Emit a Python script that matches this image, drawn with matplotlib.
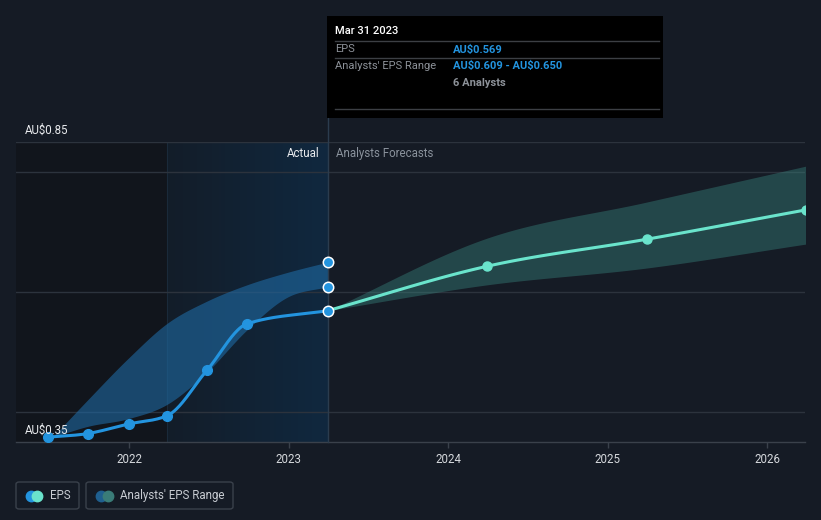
import numpy as np
import matplotlib
matplotlib.use("Agg")
import matplotlib.pyplot as plt
from matplotlib.patches import Rectangle, FancyBboxPatch
from matplotlib.lines import Line2D
from matplotlib.colors import LinearSegmentedColormap

plt.rcParams['font.family'] = ['Roboto', 'DejaVu Sans']

# EPS actuals (decimal year, AU$)
eps_x = [2021.49, 2021.74, 2021.997, 2022.24, 2022.49, 2022.74, 2023.247]
eps_y = [0.358, 0.364, 0.380, 0.394, 0.470, 0.547, 0.569]

# analysts' range over the past
past_x = [2021.52, 2021.74, 2021.997, 2022.24, 2022.49, 2022.74, 2022.997, 2023.247]
past_lo = [0.358, 0.376, 0.389, 0.413, 0.467, 0.537, 0.592, 0.609]
past_hi = [0.358, 0.420, 0.490, 0.548, 0.585, 0.612, 0.633, 0.650]

# forecasts
fc_x = [2023.247, 2024.247, 2025.247, 2026.247]
fc_y = [0.569, 0.643, 0.688, 0.737]
fc_lo = [0.569, 0.612, 0.640, 0.680]
fc_hi = [0.569, 0.690, 0.750, 0.810]

years = [2022, 2023, 2024, 2025, 2026]
y_lines = [0.40, 0.60, 0.80, 0.85]

W, H = 821, 520
BG = '#151b25'
BLUE = '#2394df'
TEAL = '#6ae4cc'


def fx(px):
    return px / W


def fy(py):
    return 1 - py / H


def monotone(x, y, n=40):
    # monotone cubic, like the d3 curve
    x = np.asarray(x, float)
    y = np.asarray(y, float)
    h = np.diff(x)
    d = np.diff(y) / h
    m = np.zeros_like(y)
    m[0], m[-1] = d[0], d[-1]
    for i in range(1, len(y) - 1):
        if d[i - 1] * d[i] <= 0:
            m[i] = 0
        else:
            p = (d[i - 1] * h[i] + d[i] * h[i - 1]) / (h[i - 1] + h[i])
            m[i] = np.sign(d[i]) * min(abs(d[i - 1]), abs(d[i]), 0.5 * abs(p)) * 2
    xs, ys = [], []
    for i in range(len(h)):
        t = np.linspace(0, 1, n)
        h00 = 2 * t**3 - 3 * t**2 + 1
        h10 = t**3 - 2 * t**2 + t
        h01 = -2 * t**3 + 3 * t**2
        h11 = t**3 - t**2
        xs.append(x[i] + t * h[i])
        ys.append(h00 * y[i] + h10 * h[i] * m[i] + h01 * y[i + 1] + h11 * h[i] * m[i + 1])
    return np.concatenate(xs), np.concatenate(ys)


fig = plt.figure(figsize=(W / 100, H / 100), dpi=100, facecolor=BG)
ax = fig.add_axes([fx(16), fy(442), fx(805) - fx(16), fy(142) - fy(442)])
ax.set_facecolor(BG)

x0 = 2022 - (129 - 16) / 159.5
x1 = 2026 + (805 - 767) / 159.5

# shaded past areas
ax.axvspan(x0, 2022.24, color='#0e1116', alpha=0.55, lw=0, zorder=0)
grad = LinearSegmentedColormap.from_list('g', ['#131d29', '#10283f'])
ax.imshow(np.linspace(0, 1, 100).reshape(1, -1), cmap=grad, aspect='auto',
          extent=[2022.24, 2023.247, 0.35, 0.85], zorder=0.5)
ax.set_xlim(x0, x1)
ax.set_ylim(0.35, 0.85)
ax.axvline(2022.24, color='#1a2a3a', lw=0.8, zorder=0.6)

for v in y_lines:
    ax.axhline(v, color='#2c333d', lw=1, zorder=1)

# bands
bx, blo = monotone(past_x, past_lo)
_, bhi = monotone(past_x, past_hi)
ax.fill_between(bx, blo, bhi, color='#1f6aa3', alpha=0.6, lw=0, zorder=2)
fx_, flo = monotone(fc_x, fc_lo)
_, fhi = monotone(fc_x, fc_hi)
ax.fill_between(fx_, flo, fhi, color='#3a8a82', alpha=0.4, lw=0, zorder=2)

# lines
ex, ey = monotone(eps_x, eps_y)
ax.plot(ex, ey, color=BLUE, lw=2.2, zorder=4, solid_capstyle='round')
ax.plot(eps_x[:-1], eps_y[:-1], 'o', color=BLUE, ms=7, zorder=5)
cx, cy = monotone(fc_x, fc_y)
ax.plot(cx, cy, color=TEAL, lw=2.2, zorder=4)
ax.plot(fc_x[1:], fc_y[1:], 'o', color=TEAL, ms=6.5, zorder=5)

# end-of-actuals markers
ax.plot([eps_x[-1]] * 3, [eps_y[-1], past_lo[-1], past_hi[-1]], 'o', color=BLUE,
        ms=7.5, mec='white', mew=1.1, zorder=6, clip_on=False)

# now line
ax.plot([2023.247, 2023.247], [0.35, 0.85 + 25 / 600], color='#2b3c4e', lw=1,
        zorder=3, clip_on=False)

ax.text(2023.247 - 0.05, 0.85 - 12 / 600, 'Actual', color='#e8eaed', fontsize=8.3,
        ha='right', va='center', zorder=7)
ax.text(2023.247 + 0.05, 0.85 - 12 / 600, 'Analysts Forecasts', color='#8a929c',
        fontsize=8.3, ha='left', va='center', zorder=7)

for s in ['top', 'right', 'left']:
    ax.spines[s].set_visible(False)
ax.spines['bottom'].set_color('#3a414b')
ax.spines['bottom'].set_linewidth(1)
ax.set_xticks(years)
ax.set_xticklabels([str(y) for y in years])
ax.tick_params(axis='x', colors='#3a414b', labelcolor='#d5d8dc', labelsize=8.3,
               length=4, width=1, pad=4)
ax.set_yticks([])

fig.text(fx(25), fy(130), r'AU\$0.85', color='#e8eaed', fontsize=8.3, va='center')
fig.text(fx(25), fy(430), r'AU\$0.35', color='#e8eaed', fontsize=8.3, va='center')

# tooltip
fig.add_artist(Rectangle((fx(327), fy(117.5)), fx(663) - fx(327), fy(16) - fy(117.5),
                         transform=fig.transFigure, facecolor='black', lw=0, zorder=10))
for py in [41.3, 58.3, 109]:
    fig.add_artist(Line2D([fx(335), fx(659)], [fy(py), fy(py)], transform=fig.transFigure,
                          color='#3c3f44', lw=1, zorder=11))
fig.text(fx(335), fy(31), 'Mar 31 2023', color='white', fontsize=8, va='center',
         fontweight='medium', zorder=12)
fig.text(fx(335), fy(49.5), 'EPS', color='#8d9299', fontsize=8, va='center', zorder=12)
fig.text(fx(453), fy(49.5), r'AU\$0.569', color=BLUE, fontsize=8, va='center',
         fontweight='bold', zorder=12)
fig.text(fx(335), fy(66), "Analysts' EPS Range", color='#8d9299', fontsize=8,
         va='center', zorder=12)
fig.text(fx(453), fy(66), r'AU\$0.609 - AU\$0.650', color=BLUE, fontsize=8, va='center',
         fontweight='bold', zorder=12)
fig.text(fx(453), fy(83), '6 Analysts', color='#8d9299', fontsize=8, va='center',
         fontweight='bold', zorder=12)

# legend
for (l, r) in [(16, 79), (86, 233)]:
    fig.add_artist(FancyBboxPatch((fx(l), fy(509)), fx(r) - fx(l), fy(482) - fy(509),
                                  boxstyle='round,pad=0,rounding_size=0.004',
                                  transform=fig.transFigure, facecolor='none',
                                  edgecolor='#3a414b', lw=1))
for px, c in [(31, BLUE), (37, TEAL), (101, '#1f5f8f'), (108, '#3a7c78')]:
    fig.add_artist(Line2D([fx(px)], [fy(495.5)], marker='o', ms=7.5, color=c,
                          transform=fig.transFigure, lw=0))
fig.text(fx(50), fy(495.5), 'EPS', color='#c8ccd2', fontsize=8.3, va='center')
fig.text(fx(120), fy(495.5), "Analysts' EPS Range", color='#c8ccd2', fontsize=8.3,
         va='center')

fig.savefig('out.png', dpi=100, facecolor=BG)
